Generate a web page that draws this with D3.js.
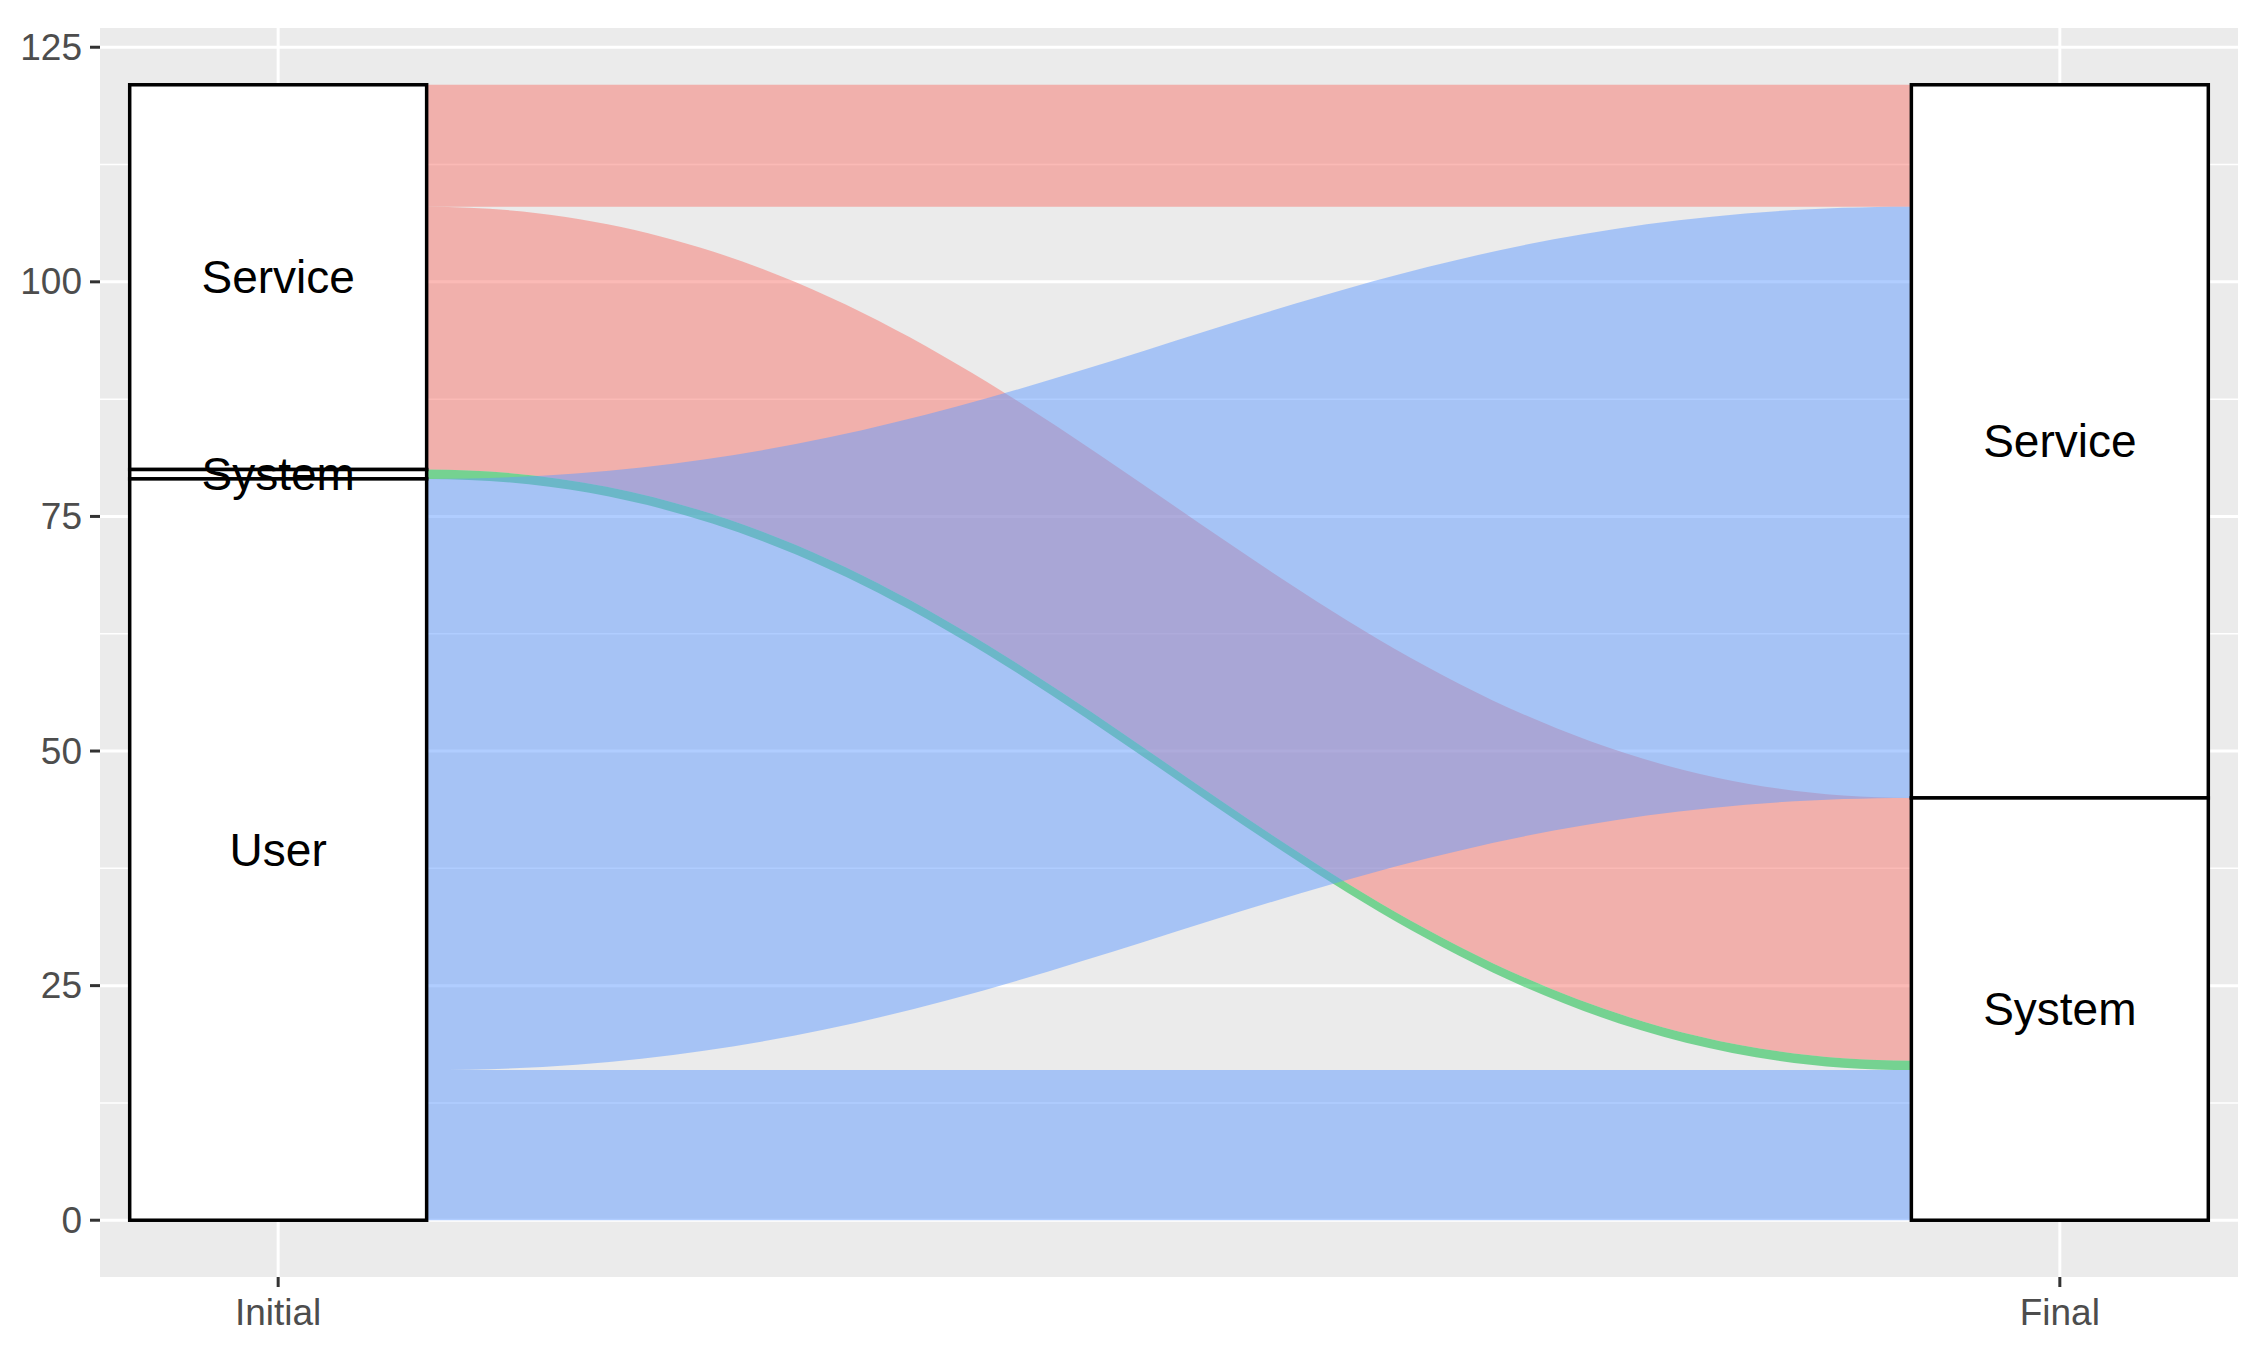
<!DOCTYPE html>
<html>
<head>
<meta charset="utf-8">
<script src="https://cdn.jsdelivr.net/npm/d3@7"></script>
<style>
  body { margin: 0; background: #ffffff; }
  svg { display: block; }
</style>
</head>
<body>
<div id="chart"></div>
<script>
// Axes and strata (top to bottom order of stacking)
const axes = ['Initial', 'Final'];
const strata = ['Service', 'System', 'User'];

// Flows: source stratum at Initial, target stratum at Final, count
const flowSource = ['Service', 'Service', 'System', 'User', 'User'];
const flowTarget = ['Service', 'System', 'System', 'Service', 'System'];
const flowCount  = [13, 28, 1, 63, 16];

const yTicks = [0, 25, 50, 75, 100, 125];
const fillColors = { Service: '#F8766D', System: '#00BA38', User: '#619CFF' };

const width = 2250, height = 1350;
const panel = { left: 100, right: 2238, top: 28, bottom: 1277 };

const flows = flowSource.map((s, i) => ({ source: s, target: flowTarget[i], count: flowCount[i] }));
const total = d3.sum(flowCount);

const x = d3.scalePoint().domain(axes).range([panel.left, panel.right]).padding(0.1);
const boxW = x.step() / 6;

const yPad = total * 0.05;
const y = d3.scaleLinear().domain([-yPad, total + yPad]).range([panel.bottom, panel.top]);

// Stack strata on each axis from the top down
function stackAxis(key, otherKey) {
    const boxes = [];
    let top = total;
    strata.forEach(st => {
        const members = flows.filter(f => f[key] === st)
            .sort((a, b) => strata.indexOf(a[otherKey]) - strata.indexOf(b[otherKey]));
        const size = d3.sum(members, f => f.count);
        if (size === 0) return;
        boxes.push({ name: st, top: top, bottom: top - size });
        let t = top;
        members.forEach(f => {
            f[key + 'Top'] = t;
            f[key + 'Bottom'] = t - f.count;
            t -= f.count;
        });
        top -= size;
    });
    return boxes;
}
const initialBoxes = stackAxis('source', 'target');
const finalBoxes = stackAxis('target', 'source');

const svg = d3.select('#chart').append('svg')
    .attr('width', width)
    .attr('height', height);

svg.append('rect').attr('width', width).attr('height', height).attr('fill', '#ffffff');

// Panel background
svg.append('rect')
    .attr('x', panel.left).attr('y', panel.top)
    .attr('width', panel.right - panel.left).attr('height', panel.bottom - panel.top)
    .attr('fill', '#EBEBEB');

// Minor grid lines
const minor = d3.range(12.5, 125, 25);
svg.selectAll('line.minor')
    .data(minor)
    .enter().append('line')
        .attr('x1', panel.left).attr('x2', panel.right)
        .attr('y1', d => y(d)).attr('y2', d => y(d))
        .attr('stroke', '#ffffff').attr('stroke-width', 1.5);

// Major grid lines
svg.selectAll('line.major')
    .data(yTicks)
    .enter().append('line')
        .attr('x1', panel.left).attr('x2', panel.right)
        .attr('y1', d => y(d)).attr('y2', d => y(d))
        .attr('stroke', '#ffffff').attr('stroke-width', 3);
svg.selectAll('line.vmajor')
    .data(axes)
    .enter().append('line')
        .attr('x1', d => x(d)).attr('x2', d => x(d))
        .attr('y1', panel.top).attr('y2', panel.bottom)
        .attr('stroke', '#ffffff').attr('stroke-width', 3);

// Flows between the two axes
const x0 = x('Initial') + boxW / 2;
const x1 = x('Final') - boxW / 2;
const k = 0.42;
function flowPath(f) {
    const cA = x0 + (x1 - x0) * k, cB = x1 - (x1 - x0) * k;
    const p = d3.path();
    p.moveTo(x0, y(f.sourceTop));
    p.bezierCurveTo(cA, y(f.sourceTop), cB, y(f.targetTop), x1, y(f.targetTop));
    p.lineTo(x1, y(f.targetBottom));
    p.bezierCurveTo(cB, y(f.targetBottom), cA, y(f.sourceBottom), x0, y(f.sourceBottom));
    p.closePath();
    return p.toString();
}
svg.selectAll('path.flow')
    .data(flows)
    .enter().append('path')
        .attr('d', flowPath)
        .attr('fill', d => fillColors[d.source])
        .attr('fill-opacity', 0.5);

// Strata boxes
const boxes = initialBoxes.map(b => ({ ...b, axis: 'Initial' }))
    .concat(finalBoxes.map(b => ({ ...b, axis: 'Final' })));
svg.selectAll('rect.stratum')
    .data(boxes)
    .enter().append('rect')
        .attr('x', d => x(d.axis) - boxW / 2)
        .attr('y', d => y(d.top))
        .attr('width', boxW)
        .attr('height', d => y(d.bottom) - y(d.top))
        .attr('fill', '#ffffff')
        .attr('stroke', '#000000')
        .attr('stroke-width', 3.5);

svg.selectAll('text.stratum')
    .data(boxes)
    .enter().append('text')
        .attr('x', d => x(d.axis))
        .attr('y', d => y((d.top + d.bottom) / 2))
        .attr('text-anchor', 'middle')
        .attr('dominant-baseline', 'central')
        .attr('font-family', 'Liberation Sans, Arial, sans-serif')
        .attr('font-size', '46px')
        .attr('fill', '#000000')
        .text(d => d.name);

// Y axis
svg.selectAll('line.ytick')
    .data(yTicks)
    .enter().append('line')
        .attr('x1', panel.left - 10).attr('x2', panel.left)
        .attr('y1', d => y(d)).attr('y2', d => y(d))
        .attr('stroke', '#333333').attr('stroke-width', 3);
svg.selectAll('text.ytick')
    .data(yTicks)
    .enter().append('text')
        .attr('x', panel.left - 18)
        .attr('y', d => y(d))
        .attr('text-anchor', 'end')
        .attr('dominant-baseline', 'central')
        .attr('font-family', 'Liberation Sans, Arial, sans-serif')
        .attr('font-size', '37px')
        .attr('fill', '#4D4D4D')
        .text(d => d);

// X axis
svg.selectAll('line.xtick')
    .data(axes)
    .enter().append('line')
        .attr('x1', d => x(d)).attr('x2', d => x(d))
        .attr('y1', panel.bottom).attr('y2', panel.bottom + 10)
        .attr('stroke', '#333333').attr('stroke-width', 3);
svg.selectAll('text.xtick')
    .data(axes)
    .enter().append('text')
        .attr('x', d => x(d))
        .attr('y', panel.bottom + 48)
        .attr('text-anchor', 'middle')
        .attr('font-family', 'Liberation Sans, Arial, sans-serif')
        .attr('font-size', '37px')
        .attr('fill', '#4D4D4D')
        .text(d => d);
</script>
</body>
</html>
